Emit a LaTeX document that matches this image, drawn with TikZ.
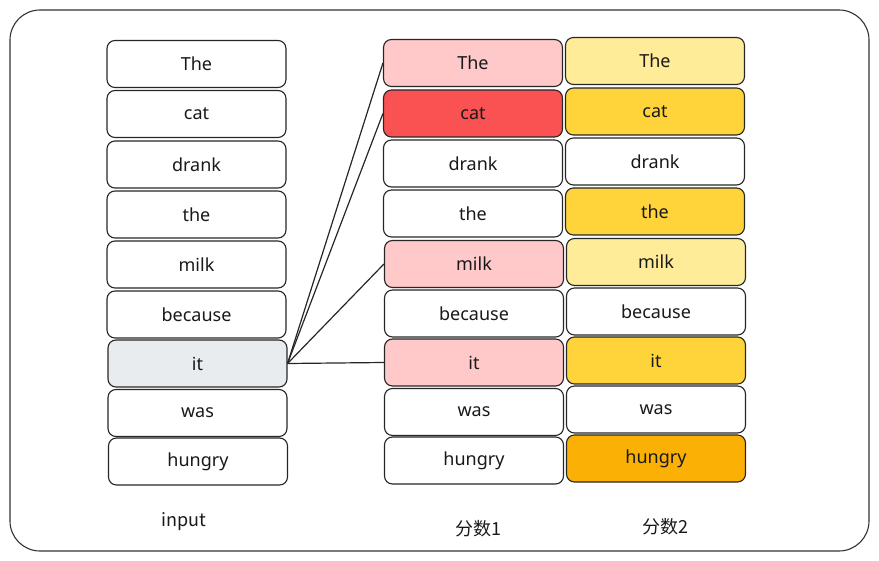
\documentclass[tikz,border=0pt]{standalone}
\usepackage{fontspec}
\setmainfont{Noto Sans}
\newfontfamily\cjk{Noto Sans CJK SC}

\definecolor{exRedLight}{HTML}{FFC9C9}
\definecolor{exRed}{HTML}{FA5252}
\definecolor{exYellowLight}{HTML}{FFEC99}
\definecolor{exYellow}{HTML}{FFD43B}
\definecolor{exOrange}{HTML}{FAB005}
\definecolor{exGrey}{HTML}{E9ECEF}

\begin{document}
\begin{tikzpicture}[
        x=1pt, y=-1pt,
        every node/.style={font=\fontsize{18}{21}\selectfont, text=black!90},
        tokenBox/.style={draw=black!85, line width=1.1pt, rounded corners=8pt,
            minimum width=179pt, minimum height=47pt, inner sep=0pt, fill=white},
        attnLine/.style={black!85, line width=1.2pt},
        colLabel/.style={font=\cjk\fontsize{18}{21}\selectfont}
    ]
        \useasboundingbox (0,0) rectangle (879,561);

        % Outer frame
        \draw[black!80, line width=1.1pt, rounded corners=30pt] (10,10) rectangle (869,551);

        % Input column
        \node[tokenBox] (inThe) at (196.5,64) {The};
        \node[tokenBox] (inCat) at (196.5,114) {cat};
        \node[tokenBox] (inDrank) at (196.5,164.5) {drank};
        \node[tokenBox] (inThe2) at (196.5,214.5) {the};
        \node[tokenBox] (inMilk) at (196.5,264.5) {milk};
        \node[tokenBox] (inBecause) at (196.5,314.5) {because};
        \node[tokenBox, fill=exGrey] (inIt) at (197.5,363.5) {it};
        \node[tokenBox] (inWas) at (197.5,413) {was};
        \node[tokenBox] (inHungry) at (198,461.5) {hungry};

        % Score 1 column, red shades
        \node[tokenBox, fill=exRedLight] (sOneThe) at (473,63) {The};
        \node[tokenBox, fill=exRed] (sOneCat) at (473,113.5) {cat};
        \node[tokenBox] (sOneDrank) at (473,163.5) {drank};
        \node[tokenBox] (sOneThe2) at (473,213.5) {the};
        \node[tokenBox, fill=exRedLight] (sOneMilk) at (474,264) {milk};
        \node[tokenBox] (sOneBecause) at (474,313.5) {because};
        \node[tokenBox, fill=exRedLight] (sOneIt) at (474,362.5) {it};
        \node[tokenBox] (sOneWas) at (474,412) {was};
        \node[tokenBox] (sOneHungry) at (474,460.5) {hungry};

        % Score 2 column, yellow shades
        \node[tokenBox, fill=exYellowLight] (sTwoThe) at (655,61) {The};
        \node[tokenBox, fill=exYellow] (sTwoCat) at (655,111.5) {cat};
        \node[tokenBox] (sTwoDrank) at (655,161.5) {drank};
        \node[tokenBox, fill=exYellow] (sTwoThe2) at (655,211.5) {the};
        \node[tokenBox, fill=exYellowLight] (sTwoMilk) at (656,262) {milk};
        \node[tokenBox] (sTwoBecause) at (656,311.5) {because};
        \node[tokenBox, fill=exYellow] (sTwoIt) at (656,360.5) {it};
        \node[tokenBox] (sTwoWas) at (656,409.5) {was};
        \node[tokenBox, fill=exOrange] (sTwoHungry) at (656,458.5) {hungry};

        % Attention links from "it"
        \draw[attnLine] (inIt.east) -- (sOneThe.west);
        \draw[attnLine] (inIt.east) -- (sOneCat.west);
        \draw[attnLine] (inIt.east) -- (sOneMilk.west);
        \draw[attnLine] (inIt.east) -- (sOneIt.west);

        % Column labels
        \node[colLabel] (lblInput) at (184,522) {input};
        \node[colLabel] (lblOne) at (478,529) {分数1};
        \node[colLabel] (lblTwo) at (665,527) {分数2};

    \end{tikzpicture}
\end{document}
